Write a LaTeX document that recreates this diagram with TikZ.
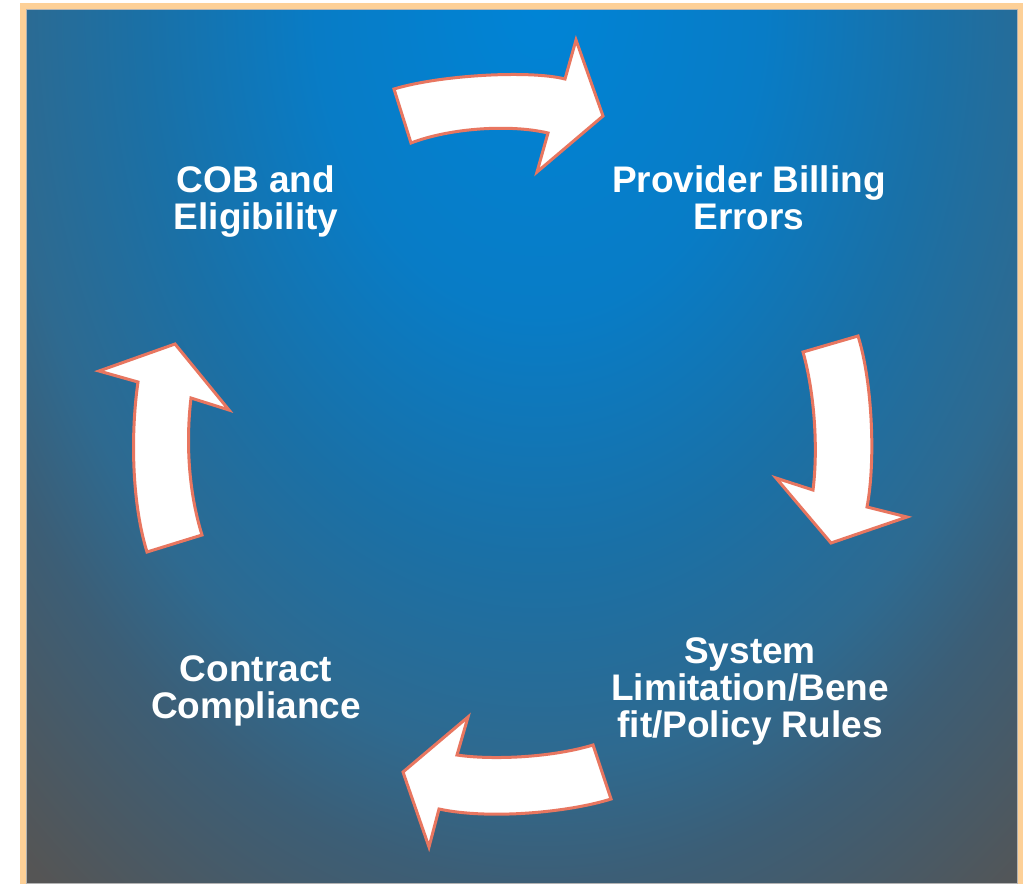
\documentclass[tikz,border=0pt]{standalone}
\usepackage{fontspec}
\setmainfont{Liberation Sans}
\definecolor{frameor}{RGB}{253,208,151}
\definecolor{arrowline}{RGB}{232,118,96}
\definecolor{g0}{RGB}{0,132,214}
\definecolor{g1}{RGB}{8,124,198}
\definecolor{g2}{RGB}{26,112,166}
\definecolor{g3}{RGB}{46,106,144}
\definecolor{g4}{RGB}{60,94,118}
\definecolor{g5}{RGB}{85,85,85}
\pgfdeclareradialshading{bgshade}{\pgfpointorigin}{color(0bp)=(g0); color(8.75bp)=(g1); color(15.5bp)=(g2); color(21bp)=(g3); color(24.5bp)=(g4); color(31.25bp)=(g5); color(50bp)=(g5)}
\begin{document}
\begin{tikzpicture}[x=1pt,y=-1pt,
  lbl/.style={text=white, font=\bfseries\fontsize{37}{37}\selectfont, align=center, anchor=base, inner sep=0pt},
  arr/.style={fill=white, draw=arrowline, line width=3pt, line join=miter}]
\useasboundingbox (0,0) rectangle (1032,884);
\fill[white] (0,0) rectangle (1032,884);
\fill[frameor] (20,3) rectangle (1023,884);
\begin{scope}
\clip (26,9) rectangle (1017,883);
\shade[shading=bgshade] (-100,-900) rectangle (1180,900);
\end{scope}
\draw[gray!60, line width=0.6pt] (26,9) rectangle (1017,883);
% top arrow
\draw[arr] (394,89) -- (411,143) .. controls (450,128) and (510,124) .. (548,133) -- (537,172) -- (603,116) -- (576,40) -- (565,79) .. controls (530,70) and (440,75) .. (394,89) -- cycle;
% right arrow
\draw[arr] (803,352) -- (858,336) .. controls (872,380) and (876,460) .. (867,507) -- (907,517) -- (831,543) -- (776,478) -- (813,490) .. controls (818,450) and (815,395) .. (803,352) -- cycle;
% bottom arrow
\draw[arr] (593,745) -- (611,799) .. controls (570,812) and (490,820) .. (439,809) -- (429,847) -- (403,772) -- (468,717) -- (457,755) .. controls (490,760) and (550,758) .. (593,745) -- cycle;
% left arrow
\draw[arr] (147,552) -- (202,535) .. controls (188,490) and (186,440) .. (191,398) -- (229,410) -- (175,344) -- (99,371) -- (138,382) .. controls (131,430) and (131,500) .. (147,552) -- cycle;
\node[lbl] (cob) at (256,229) {COB and\\Eligibility};
\node[lbl] (pbe) at (749,229) {Provider Billing\\Errors};
\node[lbl] (sys) at (750,737) {System\\Limitation/Bene\\fit/Policy Rules};
\node[lbl] (cc) at (256,718) {Contract\\Compliance};
\end{tikzpicture}
\end{document}
